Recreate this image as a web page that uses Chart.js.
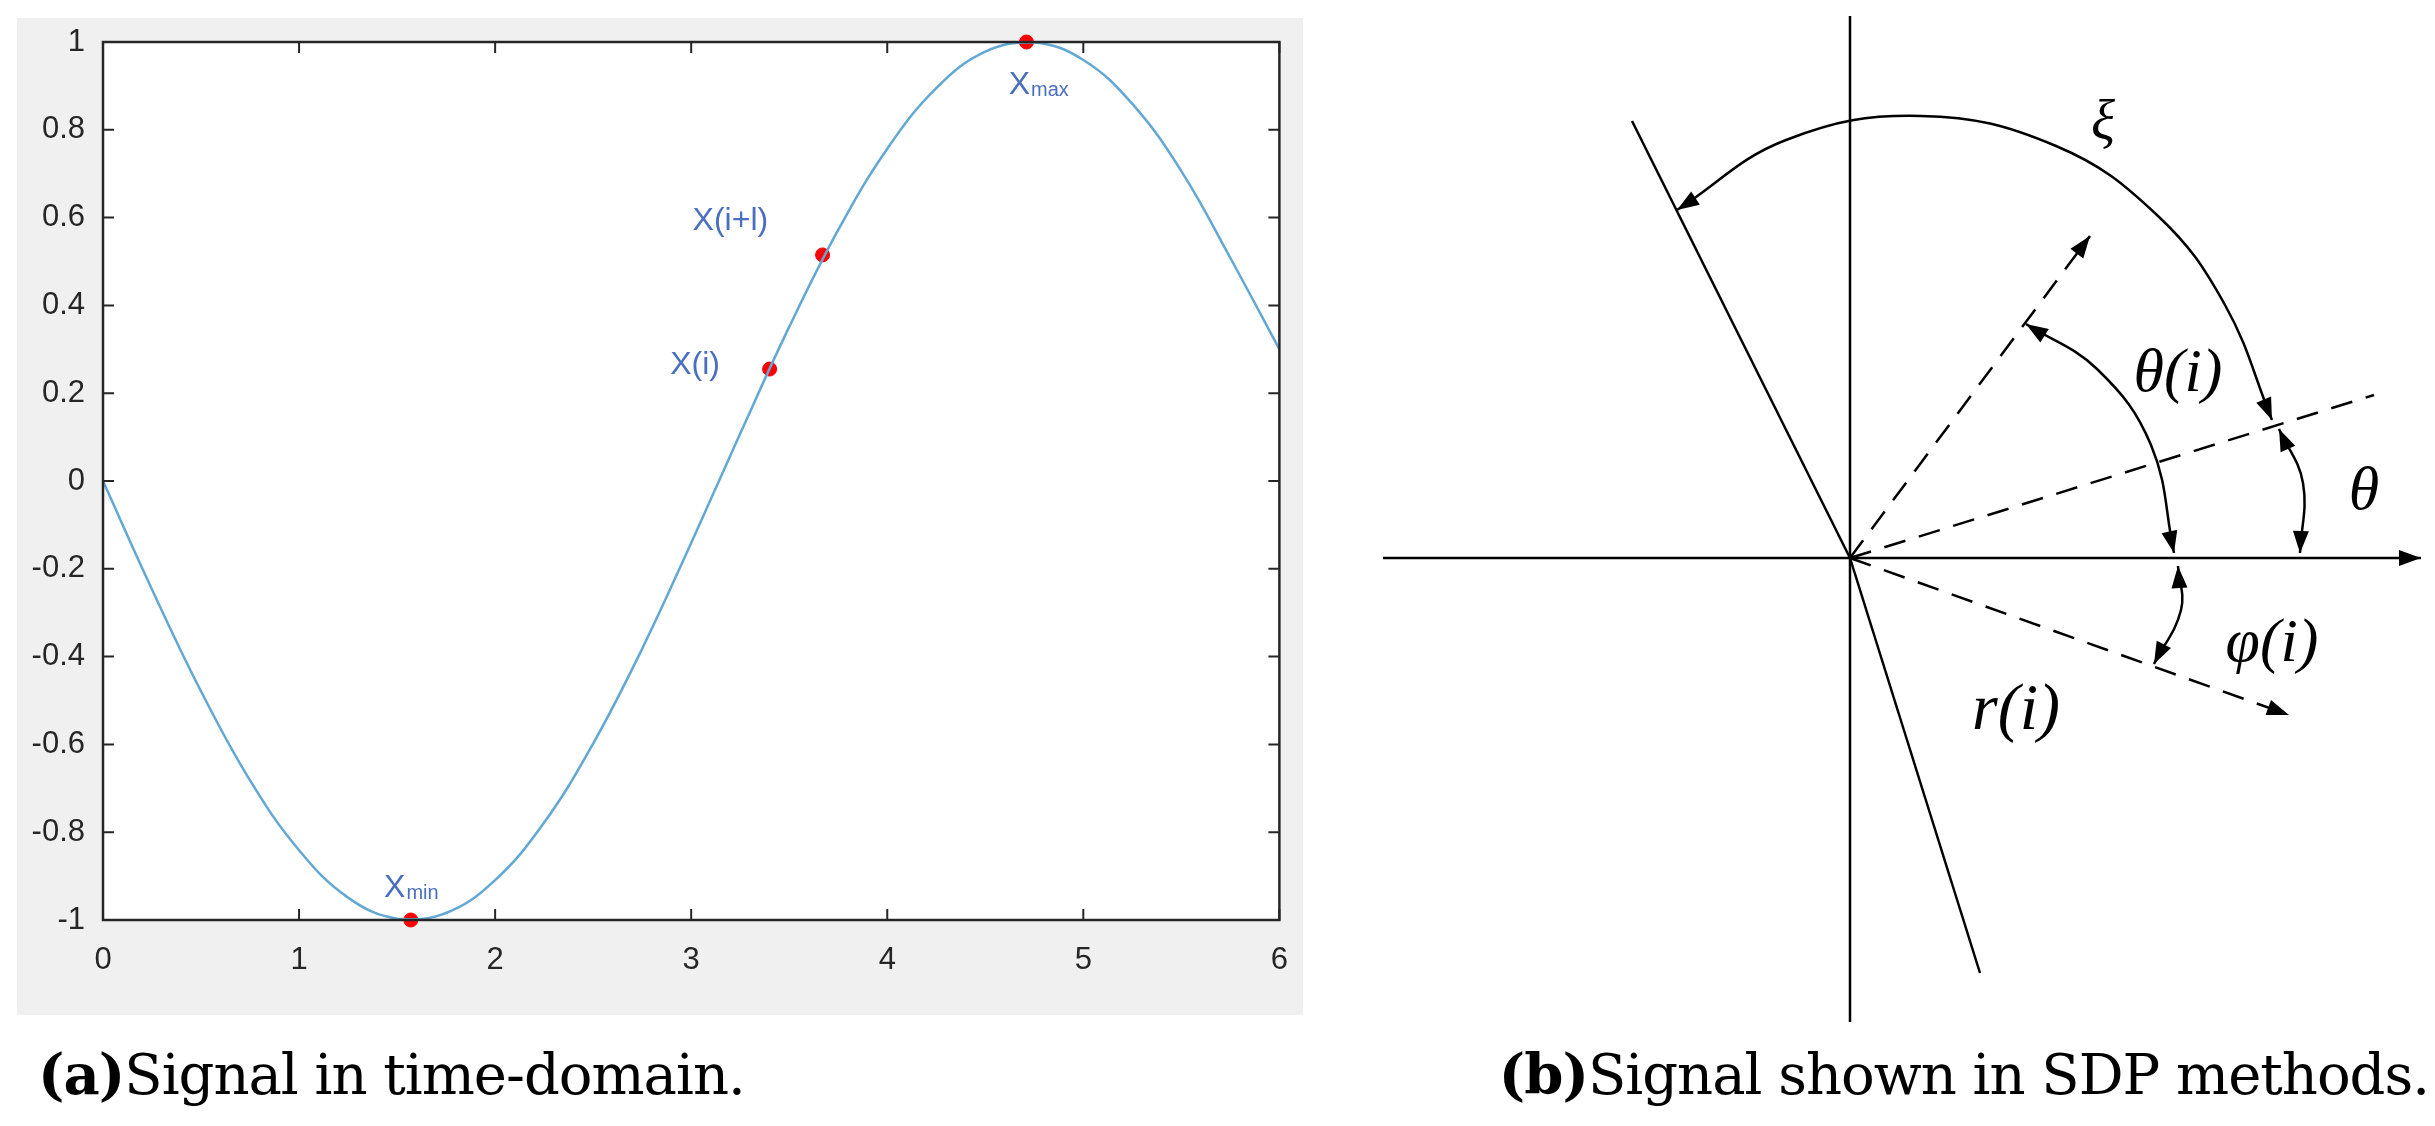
<!DOCTYPE html>
<html><head><meta charset="utf-8">
<script src="https://cdn.jsdelivr.net/npm/chart.js@4"></script>
<style>
body{margin:0;width:2435px;height:1126px;background:#fff;position:relative;overflow:hidden}
#bg{position:absolute;left:17px;top:18px;width:1286px;height:997px;background:#f0f0f0}
#w1{position:absolute;left:0;top:0;width:1310px;height:1020px}
#w2{position:absolute;left:1350px;top:0;width:1085px;height:1126px}
.cap{position:absolute;top:1046px;font-family:"DejaVu Serif",serif;font-size:56px;line-height:56px;color:#000;white-space:nowrap;letter-spacing:-1px}
</style></head><body>
<div id="bg"></div>
<div id="w1"><canvas id="c1"></canvas></div>
<div id="w2"><canvas id="c2"></canvas></div>
<div class="cap" style="left:38px"><b>(a)</b>Signal in time-domain.</div>
<div class="cap" style="right:6px"><b>(b)</b>Signal shown in SDP methods.</div>
<script>
// ---- Panel (a) data ----
const timeX = [0,0.25,0.5,0.75,1,1.25,1.5,1.75,2,2.25,2.5,2.75,3,3.25,3.5,3.75,4,4.25,4.5,4.75,5,5.25,5.5,5.75,6];
const signalY = [0,-0.247,-0.479,-0.682,-0.841,-0.949,-0.997,-0.984,-0.909,-0.778,-0.598,-0.382,-0.141,0.108,0.351,0.572,0.757,0.895,0.978,0.999,0.959,0.859,0.706,0.508,0.30];
const markX = [1.57,3.40,3.67,4.71];
const markY = [-1,0.255,0.515,1];
const markLabels = [{t:"X",s:"min",x:1.57,y:-0.92},{t:"X(i)",s:"",x:3.02,y:0.27},{t:"X(i+l)",s:"",x:3.2,y:0.6},{t:"X",s:"max",x:4.77,y:0.91}];
const xTicks = [0,1,2,3,4,5,6];
const yTicks = [-1,-0.8,-0.6,-0.4,-0.2,0,0.2,0.4,0.6,0.8,1];

const F='Arial, "Liberation Sans", sans-serif';
const axisPlugin = {
  id:'axbox',
  beforeDraw(c){const a=c.chartArea,x=c.ctx;x.save();x.fillStyle='#fff';x.fillRect(a.left,a.top,a.right-a.left,a.bottom-a.top);x.restore();},
  afterDatasetsDraw(c){
    const a=c.chartArea,x=c.ctx,sx=c.scales.x,sy=c.scales.y;
    x.save();x.strokeStyle='#262626';x.lineWidth=2.5;
    x.strokeRect(a.left,a.top,a.right-a.left,a.bottom-a.top);
    x.lineWidth=2;x.beginPath();
    xTicks.forEach(v=>{const p=sx.getPixelForValue(v);x.moveTo(p,a.bottom);x.lineTo(p,a.bottom-11);x.moveTo(p,a.top);x.lineTo(p,a.top+11);});
    yTicks.forEach(v=>{const p=sy.getPixelForValue(v);x.moveTo(a.left,p);x.lineTo(a.left+11,p);x.moveTo(a.right,p);x.lineTo(a.right-11,p);});
    x.stroke();
    x.fillStyle='#4a6fc0';x.textBaseline='alphabetic';
    markLabels.forEach(l=>{
      const px=sx.getPixelForValue(l.x),py=sy.getPixelForValue(l.y);
      x.font='32px '+F;const w1=x.measureText(l.t).width;
      x.font='20px '+F;const w2=l.s?x.measureText(l.s).width:0;
      const sx0=px-(w1+w2)/2;
      x.font='32px '+F;x.textAlign='left';x.fillText(l.t,sx0,py+12);
      if(l.s){x.font='20px '+F;x.fillText(l.s,sx0+w1+1,py+14);}
    });
    x.restore();
  }
};

new Chart(document.getElementById('c1'),{
  type:'line',
  data:{datasets:[
    {data:timeX.map((v,i)=>({x:v,y:signalY[i]})),borderColor:'#62a8d4',borderWidth:2.5,pointRadius:0,tension:0.4,fill:false},
    {type:'scatter',data:markX.map((v,i)=>({x:v,y:markY[i]})),backgroundColor:'#ff0000',borderColor:'#ff0000',pointRadius:7,clip:false}
  ]},
  plugins:[axisPlugin],
  options:{responsive:true,maintainAspectRatio:false,animation:false,
    layout:{padding:{top:42,right:16,left:0,bottom:0}},
    plugins:{legend:{display:false},tooltip:{enabled:false}},
    scales:{
      x:{type:'linear',min:0,max:6,afterFit(s){s.height=100;},afterBuildTicks(s){s.ticks=xTicks.map(v=>({value:v}));},
        grid:{display:false,drawTicks:false},border:{display:false},
        ticks:{padding:22,color:'#262626',font:{size:31,family:F},callback:v=>String(v)}},
      y:{type:'linear',min:-1,max:1,afterFit(s){s.width=103;},afterBuildTicks(s){s.ticks=yTicks.map(v=>({value:v}));},
        grid:{display:false,drawTicks:false},border:{display:false},
        ticks:{padding:18,color:'#262626',font:{size:31,family:F},callback:v=>String(Math.round(v*10)/10)}}
    }}
});

// ---- Panel (b) diagram data (page pixel units) ----
const hAxis = [[1383,558],[2421,558]];
const vAxis = [[1850,16],[1850,1022]];
const solidUpper = [[1632,121],[1850,558]];
const solidLower = [[1850,558],[1980,973]];
const ray1 = [[1850,558],[2090,236]];
const ray2 = [[1850,558],[2374,395]];
const ray3 = [[1850,558],[2289,715]];
const arcXi = [[2272,420],[2225,305],[2158,216],[2056,146],[1921,116],[1786,140],[1677,210]];
const arcTheta = [[2279,429],[2303,483],[2300,553]];
const arcThetaI = [[2026,324],[2097,369],[2151,445],[2174,553]];
const arcPhiI = [[2178,566],[2181,610],[2154,664]];
const diagLabels = [
  {t:"ξ",x:2103,y:124,s:56},{t:"θ(i)",x:2178,y:375,s:62},{t:"θ",x:2364,y:493,s:62},
  {t:"φ(i)",x:2272,y:645,s:62},{t:"r(i)",x:2016,y:712,s:66}];

const pts=a=>a.map(p=>({x:p[0],y:p[1]}));
const seg=(a,dash,t)=>({type:'line',data:pts(a),borderColor:'#000',borderWidth:2.5,pointRadius:0,borderDash:dash||[],tension:t||0,fill:false});
const arrowSpecs=[[hAxis,1],[ray1,1],[ray3,1],[arcXi,0],[arcXi,1],[arcTheta,0],[arcTheta,1],[arcThetaI,0],[arcThetaI,1],[arcPhiI,0],[arcPhiI,1]];

const diagPlugin={id:'diag',afterDatasetsDraw(c){
  const x=c.ctx,sx=c.scales.x,sy=c.scales.y;
  const P=p=>[sx.getPixelForValue(p[0]),sy.getPixelForValue(p[1])];
  x.save();x.fillStyle='#000';
  arrowSpecs.forEach(([s,e])=>{
    const tip=P(e?s[s.length-1]:s[0]),prev=P(e?s[s.length-2]:s[1]);
    const ang=Math.atan2(tip[1]-prev[1],tip[0]-prev[0]);
    const L=22,W=8;
    x.beginPath();x.moveTo(tip[0],tip[1]);
    x.lineTo(tip[0]-L*Math.cos(ang)+W*Math.sin(ang),tip[1]-L*Math.sin(ang)-W*Math.cos(ang));
    x.lineTo(tip[0]-L*Math.cos(ang)-W*Math.sin(ang),tip[1]-L*Math.sin(ang)+W*Math.cos(ang));
    x.closePath();x.fill();
  });
  x.textAlign='center';x.textBaseline='middle';
  diagLabels.forEach(l=>{x.font='italic '+l.s+'px "Liberation Serif","DejaVu Serif",serif';const p=P([l.x,l.y]);x.fillText(l.t,p[0],p[1]);});
  x.restore();
}};

new Chart(document.getElementById('c2'),{
  type:'scatter',
  data:{datasets:[
    seg(hAxis),seg(vAxis),seg(solidUpper),seg(solidLower),
    seg(ray1,[22,14]),seg(ray2,[22,14]),seg(ray3,[22,14]),
    seg(arcXi,[],0.4),seg(arcTheta,[],0.4),seg(arcThetaI,[],0.4),seg(arcPhiI,[],0.4)
  ]},
  plugins:[diagPlugin],
  options:{responsive:true,maintainAspectRatio:false,animation:false,
    layout:{padding:0},
    plugins:{legend:{display:false},tooltip:{enabled:false}},
    scales:{x:{type:'linear',display:false,min:1350,max:2435},y:{type:'linear',display:false,reverse:true,min:0,max:1126}}}
});
</script></body></html>
